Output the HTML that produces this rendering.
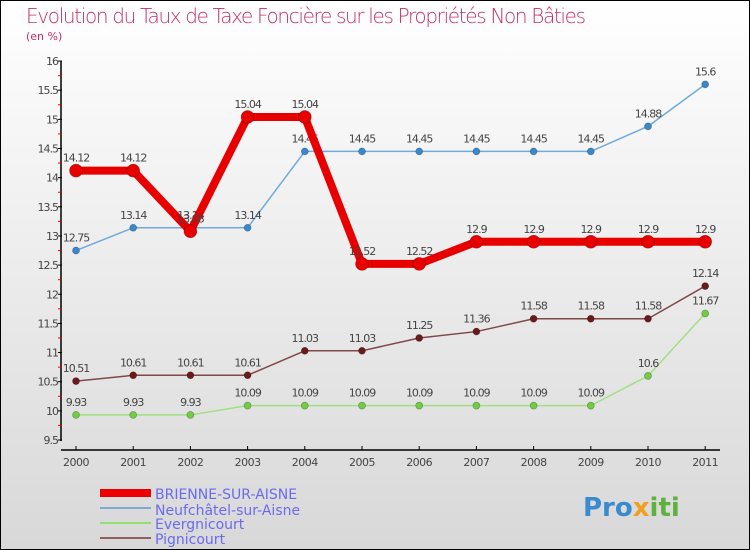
<!DOCTYPE html>
<html><head><meta charset="utf-8"><style>
body{margin:0;width:750px;height:550px;overflow:hidden;font-family:"DejaVu Sans","Liberation Sans",sans-serif}
#frame{position:absolute;left:0;top:0;width:748px;height:548px;border:1px solid #000;background:linear-gradient(#fff,#d8d8d8)}
</style></head><body>
<div id="frame">
<svg id="chart" width="750" height="550" style="position:absolute;left:-1px;top:-1px">
<text x="26" y="23" font-size="20" fill="#c0306a" style="font-family:'DejaVu Sans',sans-serif;font-weight:200" textLength="560">Evolution du Taux de Taxe Foncière sur les Propriétés Non Bâties</text>
<text x="26" y="40" font-size="11" fill="#c0306a">(en %)</text>
<g id="axes"></g><g id="series"></g>
<g>
<rect x="100" y="489" width="51" height="8" fill="#e00"/>
<text x="155" y="499" font-size="14" fill="#6a6af0">BRIENNE-SUR-AISNE</text>
<rect x="100" y="507" width="51" height="2" fill="#7aaad0"/>
<text x="155" y="515" font-size="14" fill="#6a6af0">Neufchâtel-sur-Aisne</text>
<rect x="100" y="522" width="51" height="2" fill="#90e070"/>
<text x="155" y="529" font-size="14" fill="#6a6af0">Evergnicourt</text>
<rect x="100" y="537" width="51" height="2" fill="#906060"/>
<text x="155" y="544" font-size="14" fill="#6a6af0">Pignicourt</text>
</g>
<text x="583" y="516" font-size="26" font-weight="bold" fill="#3a8ad0">Pro<tspan fill="#f0a020">x</tspan><tspan fill="#60b040">iti</tspan></text>
</svg></div>
<script>
const years=["2000","2001","2002","2003","2004","2005","2006","2007","2008","2009","2010","2011"];
const yTicks=[9.5,10,10.5,11,11.5,12,12.5,13,13.5,14,14.5,15,15.5,16];
const brienne=[14.12,14.12,13.08,15.04,15.04,12.52,12.52,12.9,12.9,12.9,12.9,12.9];
const neufchatel=[12.75,13.14,13.14,13.14,14.45,14.45,14.45,14.45,14.45,14.45,14.88,15.6];
const evergnicourt=[9.93,9.93,9.93,10.09,10.09,10.09,10.09,10.09,10.09,10.09,10.6,11.67];
const pignicourt=[10.51,10.61,10.61,10.61,11.03,11.03,11.25,11.36,11.58,11.58,11.58,12.14];
const NS="http://www.w3.org/2000/svg";
const xS=i=>76+i*57.2, yS=v=>440-(v-9.5)*58.3;
function mk(t,a,p){const e=document.createElementNS(NS,t);for(const k in a)e.setAttribute(k,a[k]);p.appendChild(e);return e;}
const ax=document.getElementById('axes'),sg=document.getElementById('series');
const yl=mk('line',{x1:61,y1:61,x2:61,y2:441,stroke:'#000','stroke-width':1.5},ax);


const xl=mk('line',{x1:61,y1:450,x2:720,y2:450,stroke:'#000','stroke-width':1.5},ax);


yTicks.forEach((v,i)=>{const y=yS(v);
mk('line',{x1:58,y1:y,x2:62,y2:y,stroke:'#000'},ax);
if(i<yTicks.length-1)mk('line',{x1:58,y1:yS(v+0.25),x2:62,y2:yS(v+0.25),stroke:'#e00'},ax);
const t=mk('text',{x:58,y:y+4,'font-size':11,fill:'#444','text-anchor':'end','letter-spacing':'-1'},ax);t.textContent=String(v);

});
years.forEach((yr,i)=>{const x=xS(i);mk('line',{x1:x,y1:446,x2:x,y2:450,stroke:'#000'},ax);
const t=mk('text',{x:x,y:466,'font-size':11,fill:'#444','text-anchor':'middle','letter-spacing':'-0.5'},ax);t.textContent=yr;

});
function series(data,name,color,w,r,dot){
const g=mk('g',{},sg);


mk('polyline',{points:data.map((v,i)=>xS(i)+','+yS(v)).join(' '),fill:'none',stroke:color,'stroke-width':w,'stroke-linejoin':'round'},g);
data.forEach((v,i)=>{const c=mk('circle',{cx:xS(i),cy:yS(v),r:r,fill:dot,stroke:'rgba(0,0,0,0.3)','stroke-width':0.7},g);


const t=mk('text',{x:xS(i),y:yS(v)-9,'font-size':11,fill:'#444','text-anchor':'middle','letter-spacing':'-1'},g);t.textContent=String(v);

});}
series(evergnicourt,'evergnicourt','#a0e080',1.5,3.5,'#70cc40');
series(pignicourt,'pignicourt','#804848',1.5,3.5,'#6a1a1a');
series(neufchatel,'neufchatel','#70aadc',1.5,3.5,'#3a88cc');
series(brienne,'brienne','#e80000',8,6.5,'#e80000');
</script>
</body></html>
